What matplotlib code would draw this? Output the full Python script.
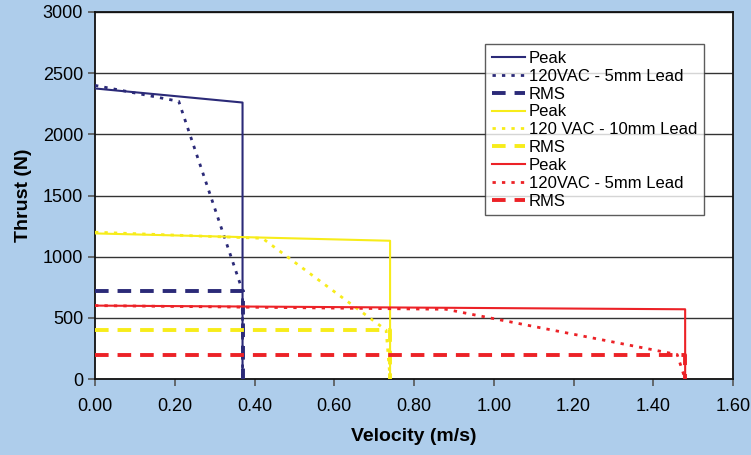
import numpy as np
import matplotlib.pyplot as plt

# velocity (m/s) / thrust (N) curves
navy_peak_v = [0.00, 0.37, 0.37]
navy_peak_f = [2375, 2260, 0]
navy_curve_v = [0.00, 0.21, 0.37, 0.37]
navy_curve_f = [2400, 2270, 720, 0]
navy_rms_v = [0.00, 0.37, 0.37]
navy_rms_f = [720, 720, 0]

yellow_peak_v = [0.00, 0.74, 0.74]
yellow_peak_f = [1190, 1130, 0]
yellow_curve_v = [0.00, 0.42, 0.73, 0.74]
yellow_curve_f = [1200, 1150, 400, 0]
yellow_rms_v = [0.00, 0.74, 0.74]
yellow_rms_f = [400, 400, 0]

red_peak_v = [0.00, 1.48, 1.48]
red_peak_f = [600, 570, 0]
red_curve_v = [0.00, 0.88, 1.46, 1.48]
red_curve_f = [600, 570, 200, 0]
red_rms_v = [0.00, 1.48, 1.48]
red_rms_f = [200, 200, 0]

labels = ['Peak', '120VAC - 5mm Lead', 'RMS',
          'Peak', '120 VAC - 10mm Lead', 'RMS',
          'Peak', '120VAC - 5mm Lead', 'RMS']

NAVY = '#2b2a78'
YELLOW = '#f7ec1a'
RED = '#ec2227'
BG = '#aecdeb'

plt.rcParams['font.family'] = ['Liberation Sans', 'DejaVu Sans']

fig = plt.figure(figsize=(7.51, 4.55), dpi=100, facecolor=BG)
ax = fig.add_axes([95/751, 76/455, 638/751, 367/455])
ax.set_facecolor('white')

dot = (0, (1.2, 2.2))
dash = (0, (3.5, 2.3))
groups = [
    (NAVY, navy_peak_v, navy_peak_f, navy_curve_v, navy_curve_f, navy_rms_v, navy_rms_f),
    (YELLOW, yellow_peak_v, yellow_peak_f, yellow_curve_v, yellow_curve_f, yellow_rms_v, yellow_rms_f),
    (RED, red_peak_v, red_peak_f, red_curve_v, red_curve_f, red_rms_v, red_rms_f),
]
handles = []
for c, pv, pf, cv, cf, rv, rf in groups:
    h1, = ax.plot(pv, pf, color=c, lw=1.5, zorder=3)
    h2, = ax.plot(cv, cf, color=c, lw=2.0, linestyle=dot, zorder=3)
    h3, = ax.plot(rv, rf, color=c, lw=2.8, linestyle=dash, zorder=3)
    handles += [h1, h2, h3]

ax.set_xlim(0, 1.6)
ax.set_ylim(0, 3000)
ax.set_xticks(np.arange(0, 1.61, 0.2))
ax.set_xticklabels(['%.2f' % t for t in np.arange(0, 1.61, 0.2)])
ax.set_yticks(np.arange(0, 3001, 500))
ax.yaxis.grid(True, color='#333333', lw=1.0)
ax.set_axisbelow(True)
ax.tick_params(labelsize=13, color='#555555', width=1.2, length=5, direction='out')
ax.tick_params(axis='x', pad=9)
for s in ax.spines.values():
    s.set_color('#111111')
    s.set_linewidth(1.3)

ax.set_xlabel('Velocity (m/s)', fontsize=14, fontweight='bold', labelpad=9)
ax.set_ylabel('Thrust (N)', fontsize=14, fontweight='bold', labelpad=8)

leg = ax.legend(handles, labels, loc='upper left', bbox_to_anchor=(0.612, 0.912),
                fontsize=12, frameon=True, fancybox=False, edgecolor='#333333',
                handlelength=2.0, handletextpad=0.2, labelspacing=0.17,
                borderpad=0.4, borderaxespad=0)
leg.get_frame().set_linewidth(1.0)

fig.savefig('out.png', dpi=100, facecolor=BG)
